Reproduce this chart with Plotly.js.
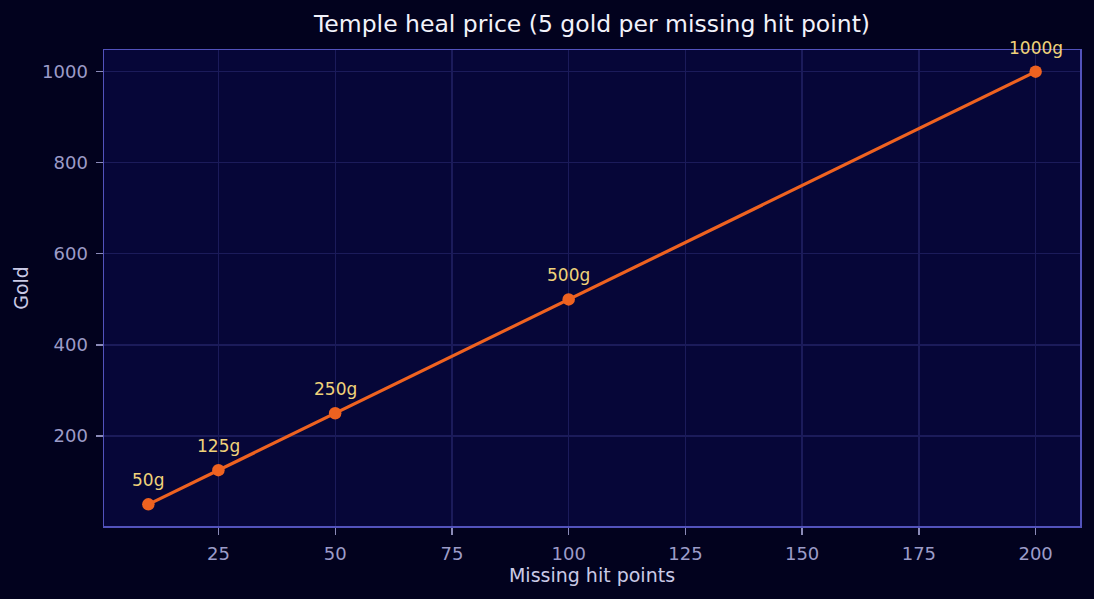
<!DOCTYPE html>
<html><head><meta charset="utf-8">
<script src="https://cdn.plot.ly/plotly-3.0.1.min.js"></script>
<style>html,body{margin:0;padding:0;background:#02021e;}#chart{width:1094px;height:599px;}</style>
</head><body><div id="chart"></div>
<script>
const missingHp = [10, 25, 50, 100, 200];
const goldCost = [50, 125, 250, 500, 1000];
const pointLabels = ["50g", "125g", "250g", "500g", "1000g"];
const xTicks = [25, 50, 75, 100, 125, 150, 175, 200];
const yTicks = [200, 400, 600, 800, 1000];

const trace = {
  x: missingHp, y: goldCost,
  mode: 'lines+markers', type: 'scatter',
  line: {color: '#ee6220', width: 3.2},
  marker: {color: '#ee6220', size: 12.5},
  cliponaxis: false, hoverinfo: 'none'
};
const labelAnnotations = missingHp.map((xv, i) => ({
  x: xv, y: goldCost[i], xref: 'x', yref: 'y', text: pointLabels[i],
  showarrow: false, xanchor: 'center', yanchor: 'middle', yshift: 24,
  font: {family: 'DejaVu Sans', size: 17, color: '#f0d27a'}
}));
const axisCommon = {
  showline: true, mirror: true, linecolor: '#5252bc', linewidth: 1.5,
  gridcolor: '#1b1b5a', gridwidth: 1.3, zeroline: false,
  ticks: 'outside', ticklen: 7, tickcolor: '#8a8ab8', tickwidth: 1.3,
  ticklabelstandoff: 4,
  tickfont: {family: 'DejaVu Sans', size: 18, color: '#9c9cc8'}
};
const layout = {
  width: 1094, height: 599,
  paper_bgcolor: '#02021e', plot_bgcolor: '#060638',
  margin: {l: 104, r: 14, t: 50, b: 73},
  showlegend: false,
  font: {family: 'DejaVu Sans'},
  title: {text: 'Temple heal price (5 gold per missing hit point)', xref: 'paper', x: 0.5, xanchor: 'center', y: 0.96, yanchor: 'middle',
    font: {family: 'DejaVu Sans', size: 23.5, color: '#f2f2fa'}},
  annotations: labelAnnotations,
  xaxis: Object.assign({}, axisCommon, {range: [0.5, 209.5], tickvals: xTicks,
    title: {text: 'Missing hit points', standoff: 4, font: {family: 'DejaVu Sans', size: 19, color: '#cacae6'}}}),
  yaxis: Object.assign({}, axisCommon, {range: [2.5, 1047.5], tickvals: yTicks,
    title: {text: 'Gold', standoff: 8, font: {family: 'DejaVu Sans', size: 19, color: '#cacae6'}}})
};
Plotly.newPlot('chart', [trace], layout, {displayModeBar: false, staticPlot: true});
</script></body></html>
